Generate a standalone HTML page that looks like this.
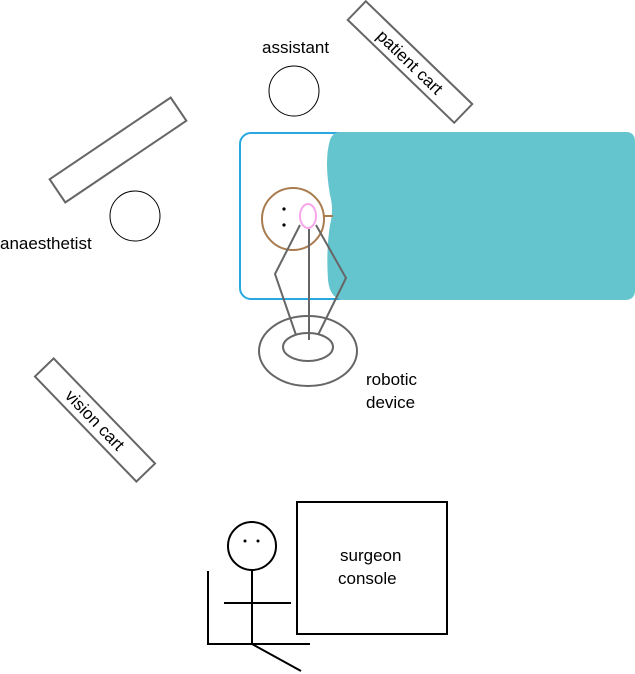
<!DOCTYPE html><html><head><style>body{margin:0;background:#fff}svg{display:block}text{font-family:"Liberation Sans",sans-serif;font-size:17px;fill:#000}</style></head><body>
<svg width="635" height="674" viewBox="0 0 635 674" xmlns="http://www.w3.org/2000/svg">
<rect x="240" y="133" width="110" height="166" rx="11" fill="none" stroke="#29a8e0" stroke-width="2"/>
<path d="M340 132 L626 132 Q635 132 635 142 L635 290 Q635 300 625 300 L345 300 Q330 300 328 280 Q326 250 330 225 Q334 210 330 195 Q324 160 330 140 Q333 132 340 132 Z" fill="#64c5ce"/>
<line x1="324" y1="216" x2="333" y2="216" stroke="#a87c4f" stroke-width="2"/>
<circle cx="293" cy="219" r="31" fill="none" stroke="#a87c4f" stroke-width="2"/>
<ellipse cx="308" cy="216" rx="8" ry="12" fill="none" stroke="#f7a6ec" stroke-width="2"/>
<circle cx="284" cy="209" r="1.6"/><circle cx="284" cy="225" r="1.6"/>
<g fill="none" stroke="#666" stroke-width="2">
<polyline points="300,225 275,274 296,335"/>
<line x1="309" y1="229" x2="309" y2="340"/>
<polyline points="316,225 346,278 318,335"/>
<ellipse cx="308" cy="351" rx="49" ry="35"/>
<ellipse cx="308" cy="347" rx="25" ry="14"/>
<rect x="-74" y="-13" width="148" height="26" transform="translate(410,62) rotate(44)"/>
<rect x="-73" y="-14" width="146" height="28" transform="translate(118,150) rotate(-34)"/>
<rect x="-73" y="-13" width="146" height="26" transform="translate(95,420) rotate(46)"/>
</g>
<circle cx="294" cy="91" r="25" fill="none" stroke="#000"/>
<circle cx="135" cy="216" r="25" fill="none" stroke="#000"/>
<text x="262" y="53">assistant</text>
<text x="0" y="249">anaesthetist</text>
<text x="366" y="385">robotic</text>
<text x="366" y="408">device</text>
<text text-anchor="middle" transform="translate(410,62) rotate(44) translate(0,6)">patient cart</text>
<text text-anchor="middle" transform="translate(95,420) rotate(46) translate(0,6)">vision cart</text>
<g fill="none" stroke="#000" stroke-width="2">
<circle cx="252" cy="546" r="24"/>
<line x1="252" y1="570" x2="252" y2="644"/>
<line x1="224" y1="603" x2="291" y2="603"/>
<polyline points="208,571 208,644 310,644"/>
<line x1="252" y1="644" x2="301" y2="671"/>
<rect x="297" y="502" width="150" height="132"/>
</g>
<circle cx="245" cy="541" r="1.5"/><circle cx="258" cy="541" r="1.5"/>
<text x="340" y="561">surgeon</text>
<text x="338" y="584">console</text>
</svg></body></html>
